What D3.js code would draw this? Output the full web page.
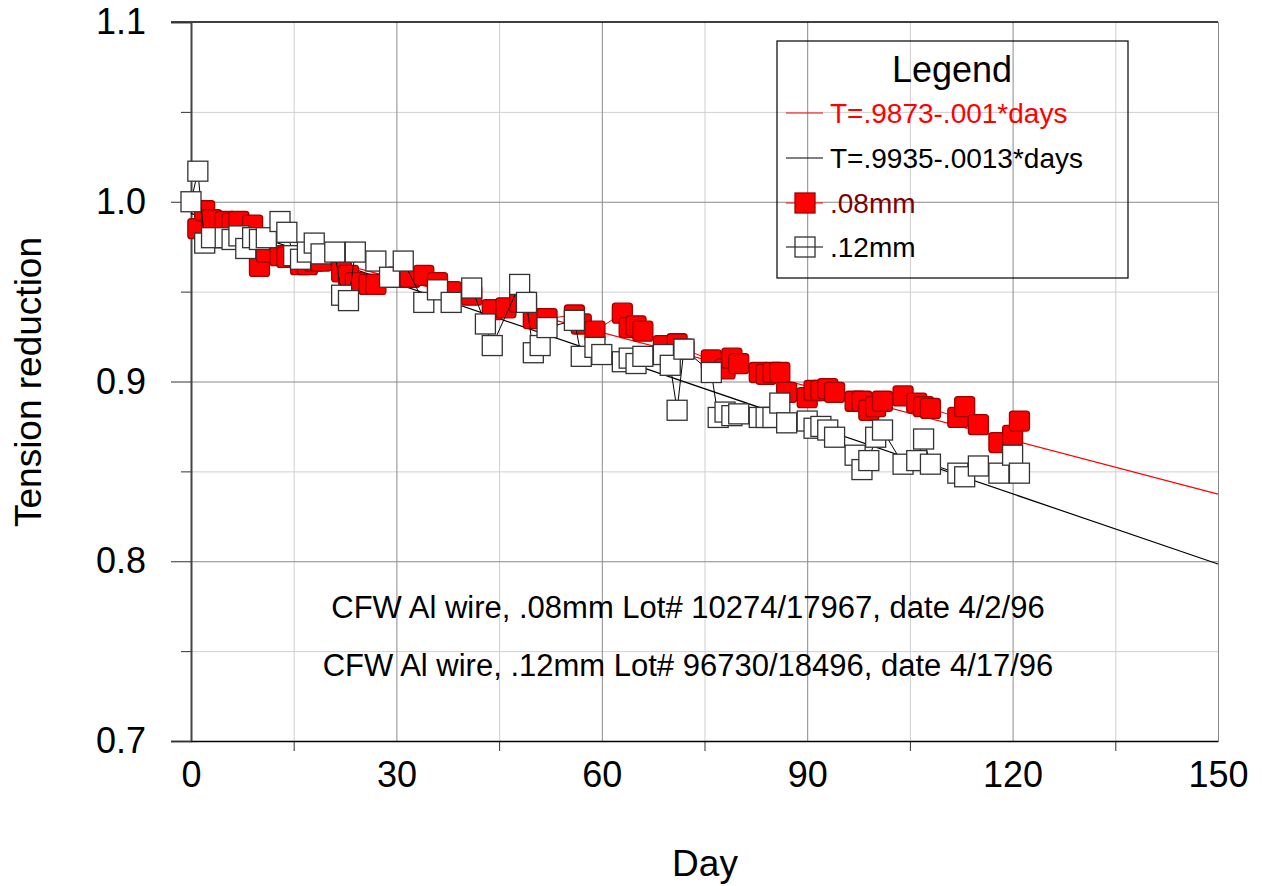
<!DOCTYPE html>
<html>
<head>
<meta charset="utf-8">
<script src="https://cdn.jsdelivr.net/npm/d3@7"></script>
<style>
  body { margin: 0; background: #fff; }
  svg { font-family: 'Liberation Sans', Arial, sans-serif; }
</style>
</head>
<body>
<svg width="1262" height="886"></svg>
<script>
// .08mm のワイヤ（赤、塗りつぶし）
const days08 = [1, 2, 3, 5, 6, 7, 9, 10, 11, 13, 14, 16, 17, 18, 19, 22, 23, 24, 26, 27,
  30, 32, 34, 36, 38, 41, 44, 46, 48, 49, 50, 52, 56, 57, 59, 63, 64, 65, 66, 69,
  71, 72, 76, 78, 79, 80, 83, 84, 85, 86, 87, 90, 91, 92, 93, 94, 97, 98, 99, 100,
  101, 104, 106, 107, 108, 112, 113, 115, 118, 120, 121]
const tension08 = [0.985, 0.995, 0.990, 0.989, 0.988, 0.989, 0.987, 0.964, 0.972, 0.970,
  0.969, 0.965, 0.965, 0.967, 0.967, 0.961, 0.959, 0.955, 0.954, 0.954,
  0.958, 0.958, 0.959, 0.955, 0.950, 0.948, 0.940, 0.941, 0.944, 0.944,
  0.935, 0.935, 0.937, 0.932, 0.928, 0.938, 0.930, 0.931, 0.928, 0.920,
  0.921, 0.918, 0.912, 0.907, 0.913, 0.910, 0.905, 0.904, 0.905, 0.905,
  0.894, 0.891, 0.895, 0.895, 0.896, 0.894, 0.889, 0.889, 0.884, 0.886,
  0.889, 0.892, 0.888, 0.886, 0.885, 0.880, 0.886, 0.876, 0.866, 0.870, 0.878]

// .12mm のワイヤ（白抜き）
const days12 = [0, 1, 2, 3, 5, 6, 7, 8, 9, 10, 11, 13, 14, 15, 16, 17, 18, 19, 21, 22,
  23, 24, 27, 29, 31, 34, 36, 38, 41, 43, 44, 48, 49, 50, 51, 52, 56, 57, 59, 60,
  63, 64, 65, 66, 69, 70, 71, 72, 76, 77, 78, 79, 80, 83, 84, 85, 86, 87, 90, 91,
  92, 93, 94, 97, 98, 99, 100, 101, 104, 106, 107, 108, 112, 113, 115, 118, 120, 121]
const tension12 = [1.000, 1.017, 0.977, 0.980, 0.980, 0.979, 0.981, 0.974, 0.980, 0.979,
  0.980, 0.989, 0.983, 0.970, 0.968, 0.972, 0.977, 0.971, 0.972, 0.948,
  0.945, 0.972, 0.967, 0.958, 0.967, 0.944, 0.951, 0.944, 0.952, 0.932,
  0.920, 0.954, 0.944, 0.916, 0.920, 0.930, 0.934, 0.914, 0.919, 0.915,
  0.911, 0.913, 0.910, 0.914, 0.915, 0.909, 0.884, 0.918, 0.905, 0.880,
  0.883, 0.881, 0.882, 0.880, 0.880, 0.880, 0.888, 0.877, 0.878, 0.874,
  0.875, 0.873, 0.869, 0.859, 0.851, 0.856, 0.869, 0.873, 0.854, 0.856,
  0.868, 0.854, 0.849, 0.847, 0.853, 0.849, 0.859, 0.849]

// 回帰直線 T = a + b * days
const fit08 = [0.9873, -0.001]
const fit12 = [0.9935, -0.0013]

const xTicks = [0, 30, 60, 90, 120, 150]
const xMinor = [15, 45, 75, 105, 135]
const yTicks = [0.7, 0.8, 0.9, 1.0, 1.1]
const yMinor = [0.75, 0.85, 0.95, 1.05]

const legendLabels = ['T=.9873-.001*days', 'T=.9935-.0013*days', '.08mm', '.12mm']
const notes = ['CFW Al wire, .08mm Lot# 10274/17967, date 4/2/96',
  'CFW Al wire, .12mm Lot# 96730/18496, date 4/17/96']

// 描画領域
const plotL = 191, plotR = 1218, plotT = 22, plotB = 741
const svg = d3.select('svg')

const xScale = d3.scaleLinear().domain([0, 150]).range([plotL, plotR])
const yScale = d3.scaleLinear().domain([0.7, 1.1]).range([plotB, plotT])

// グリッド（細い方が薄い）
const gridX = (vals, color) => {
  svg.append('g')
    .attr('transform', `translate(0,${plotB})`)
    .call(d3.axisBottom(xScale).tickValues(vals).tickSize(-(plotB - plotT)).tickFormat(''))
    .call(g => g.select('.domain').remove())
    .selectAll('line').attr('stroke', color)
}
const gridY = (vals, color) => {
  svg.append('g')
    .attr('transform', `translate(${plotL},0)`)
    .call(d3.axisLeft(yScale).tickValues(vals).tickSize(-(plotR - plotL)).tickFormat(''))
    .call(g => g.select('.domain').remove())
    .selectAll('line').attr('stroke', color)
}
gridX(xMinor, '#cfcfcf')
gridY(yMinor, '#cfcfcf')
gridX(xTicks.slice(1), '#8a8a8a')
gridY(yTicks.slice(1, 4), '#8a8a8a')

// 上端の線
svg.append('line')
  .attr('x1', plotL - 20).attr('x2', plotR)
  .attr('y1', yScale(1.1)).attr('y2', yScale(1.1))
  .attr('stroke', '#000').attr('stroke-width', 1.5)

// y軸
svg.append('g')
  .attr('transform', `translate(${plotL},0)`)
  .call(d3.axisLeft(yScale).tickValues(yMinor).tickSize(10).tickFormat(''))
  .call(g => g.select('.domain').remove())
  .selectAll('line').attr('stroke', '#333')
svg.append('g')
  .attr('transform', `translate(${plotL},0)`)
  .call(d3.axisLeft(yScale).tickValues(yTicks).tickSize(20).tickPadding(25).tickFormat(d3.format('.1f')))
  .call(g => g.select('.domain').attr('stroke', '#444').attr('stroke-width', 2))
  .call(g => g.selectAll('line').attr('stroke', '#333'))
  .call(g => g.selectAll('text').attr('font-size', 36).attr('fill', '#000'))
  .attr('font-family', null)

// x軸
svg.append('g')
  .attr('transform', `translate(0,${plotB})`)
  .call(d3.axisBottom(xScale).tickValues(xMinor).tickSize(10).tickFormat(''))
  .call(g => g.select('.domain').remove())
  .selectAll('line').attr('stroke', '#333')
svg.append('g')
  .attr('transform', `translate(0,${plotB})`)
  .call(d3.axisBottom(xScale).tickValues(xTicks).tickSize(0).tickPadding(20).tickFormat(d3.format('d')))
  .call(g => g.select('.domain').attr('stroke', '#000').attr('stroke-width', 1.5))
  .call(g => g.selectAll('text').attr('font-size', 36).attr('fill', '#000'))
  .attr('font-family', null)

// 軸タイトル
svg.append('text')
  .attr('x', 705).attr('y', 876)
  .attr('text-anchor', 'middle').attr('font-size', 37)
  .text('Day')
svg.append('text')
  .attr('transform', 'translate(41,382) rotate(-90)')
  .attr('text-anchor', 'middle').attr('font-size', 37)
  .text('Tension reduction')

// 回帰直線
const fitLine = (fit, color) => {
  svg.append('path')
    .datum([0, 150])
    .attr('fill', 'none').attr('stroke', color).attr('stroke-width', 1.2)
    .attr('d', d3.line().x(d => xScale(d)).y(d => yScale(fit[0] + fit[1] * d)))
}
fitLine(fit08, '#ff0000')
fitLine(fit12, '#000')

// データ系列（折れ線 + 四角マーカー）
const size = 20
const drawSeries = (days, vals, lineColor, fill, stroke, rx) => {
  const pts = days.map((d, i) => [d, vals[i]])
  svg.append('path')
    .datum(pts)
    .attr('fill', 'none').attr('stroke', lineColor).attr('stroke-width', 1)
    .attr('d', d3.line().x(d => xScale(d[0])).y(d => yScale(d[1])))
  svg.append('g').selectAll('rect')
    .data(pts)
    .enter()
    .append('rect')
    .attr('x', d => xScale(d[0]) - size / 2)
    .attr('y', d => yScale(d[1]) - size / 2)
    .attr('width', size).attr('height', size)
    .attr('rx', rx)
    .attr('fill', fill).attr('stroke', stroke).attr('stroke-width', 1.3)
}
drawSeries(days08, tension08, '#ff0000', '#ff0000', '#a00000', 3)
drawSeries(days12, tension12, '#000', '#fff', '#333', 0)

// 注記
notes.forEach((t, i) => {
  svg.append('text')
    .attr('x', 688).attr('y', 618 + i * 58)
    .attr('text-anchor', 'middle').attr('font-size', 31)
    .text(t)
})

// 凡例
const legend = svg.append('g')
legend.append('rect')
  .attr('x', 777).attr('y', 41).attr('width', 351).attr('height', 237)
  .attr('fill', 'none').attr('stroke', '#000').attr('stroke-width', 1.2)
legend.append('text')
  .attr('x', 952).attr('y', 82)
  .attr('text-anchor', 'middle').attr('font-size', 36)
  .text('Legend')
const legendY = [113, 158, 203, 247]
const legendColors = ['#ff0000', '#000', '#800000', '#000']
legendLabels.forEach((t, i) => {
  const y = legendY[i]
  legend.append('line')
    .attr('x1', 786).attr('x2', 823).attr('y1', y).attr('y2', y)
    .attr('stroke', i === 0 || i === 2 ? '#ff0000' : '#000').attr('stroke-width', 1)
  if (i >= 2) {
    legend.append('rect')
      .attr('x', 805 - size / 2).attr('y', y - size / 2)
      .attr('width', size).attr('height', size)
      .attr('fill', i === 2 ? '#ff0000' : 'none')
      .attr('stroke', i === 2 ? '#a00000' : '#333').attr('stroke-width', 1.3)
  }
  legend.append('text')
    .attr('x', 830).attr('y', y + 10)
    .attr('font-size', 28)
    .attr('fill', legendColors[i])
    .text(t)
})
</script>
</body>
</html>
